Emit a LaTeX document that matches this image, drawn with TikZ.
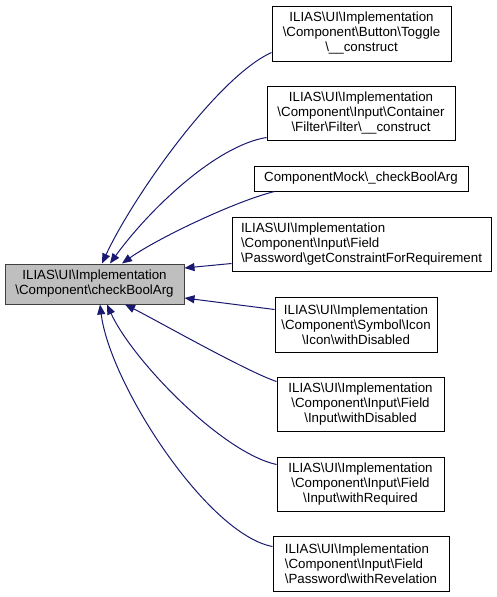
\documentclass[tikz,border=0pt]{standalone}
\usepackage{fontspec}
\setmainfont{Liberation Sans}
\usetikzlibrary{arrows.meta}
\definecolor{navy}{HTML}{191970}
\definecolor{rootfill}{HTML}{BFBFBF}
\definecolor{rootline}{HTML}{404040}
\newcommand{\bsl}{\textbackslash}

\begin{document}
\begin{tikzpicture}[x=1pt,y=-1pt,line width=1pt,
  every node/.style = {draw, align=center, shape=rectangle, inner xsep=2pt, inner ysep=0pt,
    font=\fontsize{13.3}{15}\selectfont},
  callarrow/.style = {draw=navy, -{Triangle[length=10pt,width=8pt]}}]
\useasboundingbox (0,0) rectangle (496,597);
\node[fill=rootfill, draw=rootline, minimum width=179pt, minimum height=40pt] (main) at (94.5,284)
  {ILIAS\bsl UI\bsl Implementation\\\bsl Component\bsl checkBoolArg};
\node[minimum width=179pt, minimum height=55pt] (toggle) at (361.5,33.5)
  {ILIAS\bsl UI\bsl Implementation\\\bsl Component\bsl Button\bsl Toggle\\\bsl\_\_construct};
\node[minimum width=188pt, minimum height=54pt] (filter) at (361,113)
  {ILIAS\bsl UI\bsl Implementation\\\bsl Component\bsl Input\bsl Container\\\bsl Filter\bsl Filter\bsl\_\_construct};
\node[minimum width=214pt, minimum height=25pt] (mock) at (361,178.5)
  {ComponentMock\bsl\_checkBoolArg};
\node[align=left, minimum width=259pt, minimum height=54pt] (constraint) at (361.5,244)
  {ILIAS\bsl UI\bsl Implementation\\\bsl Component\bsl Input\bsl Field\\\bsl Password\bsl getConstraintForRequirement};
\node[minimum width=162pt, minimum height=55pt] (icon) at (356,324.5)
  {ILIAS\bsl UI\bsl Implementation\\\bsl Component\bsl Symbol\bsl Icon\\\bsl Icon\bsl withDisabled};
\node[minimum width=167pt, minimum height=54pt] (disabled) at (360.5,404)
  {ILIAS\bsl UI\bsl Implementation\\\bsl Component\bsl Input\bsl Field\\\bsl Input\bsl withDisabled};
\node[minimum width=167pt, minimum height=54pt] (required) at (360.5,484)
  {ILIAS\bsl UI\bsl Implementation\\\bsl Component\bsl Input\bsl Field\\\bsl Input\bsl withRequired};
\node[align=left, minimum width=176pt, minimum height=55pt] (revelation) at (361,563.5)
  {ILIAS\bsl UI\bsl Implementation\\\bsl Component\bsl Input\bsl Field\\\bsl Password\bsl withRevelation};
% callers, top to bottom
\draw[callarrow] ([yshift=9pt]toggle.south west) .. controls +(-55,25) and +(30,-65) .. ([xshift=7.5pt]main.north);
\draw[callarrow] ([yshift=3pt]filter.south west) .. controls +(-50,8) and +(40,-55) .. ([xshift=15.5pt]main.north);
\draw[callarrow] ([xshift=21pt]mock.south west) .. controls +(-40,10) and +(35,-25) .. ([xshift=27.5pt]main.north);
\draw[callarrow] ([yshift=8pt]constraint.south west) -- ([yshift=16pt]main.east);
\draw[callarrow] ([yshift=-13pt]icon.north west) -- ([yshift=-14pt]main.east);
\draw[callarrow] ([yshift=-5pt]disabled.north west) .. controls +(-30,-10) and +(30,15) .. ([xshift=30.5pt]main.south);
\draw[callarrow] ([yshift=-8pt]required.north west) .. controls +(-55,-12) and +(25,55) .. ([xshift=12.5pt]main.south);
\draw[callarrow] ([yshift=-11pt]revelation.north west) .. controls +(-65,-12) and +(10,80) .. ([xshift=5.5pt]main.south);
\end{tikzpicture}
\end{document}
